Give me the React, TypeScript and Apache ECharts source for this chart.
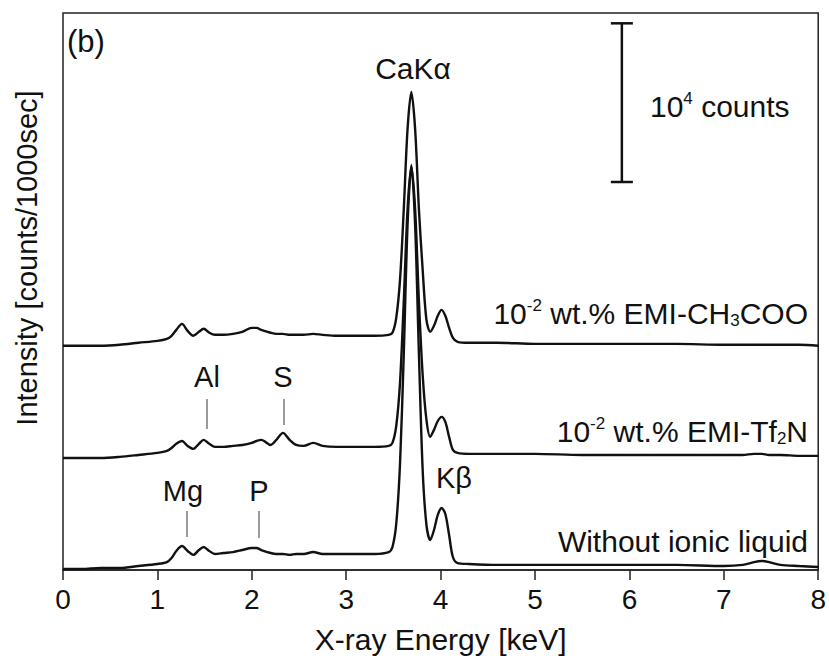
import React, { useEffect, useRef } from 'react';
import * as echarts from 'echarts';

// X-ray energy grid (keV)
const energies = [
  0, 0.2, 0.4, 0.6, 0.8,
  1.0, 1.1, 1.15, 1.2, 1.26,
  1.32, 1.38, 1.44, 1.49, 1.55,
  1.61, 1.7, 1.8, 1.9, 2.0,
  2.05, 2.1, 2.2, 2.26, 2.33,
  2.4, 2.47, 2.55, 2.65, 2.75,
  2.9, 3.1, 3.3, 3.45, 3.49,
  3.53, 3.57, 3.61, 3.65, 3.69,
  3.73, 3.77, 3.81, 3.85, 3.89,
  3.93, 3.97, 4.01, 4.05, 4.09,
  4.13, 4.18, 4.3, 4.6, 5.0,
  5.5, 6.0, 6.5, 7.0, 7.2,
  7.32, 7.4, 7.48, 7.6, 7.8,
  8.0,
];

// counts / 1000 sec (before vertical offset)
const ch3coo = [
  130, 130, 130, 190, 320,
  440, 570, 760, 1130, 1510,
  1070, 760, 1010, 1200, 950,
  820, 820, 880, 1010, 1260,
  1260, 1130, 950, 880, 880,
  820, 820, 820, 880, 820,
  760, 760, 760, 820, 950,
  1890, 4280, 8760, 13800, 16130,
  13800, 8760, 4910, 1760, 1010,
  1390, 2020, 2390, 2020, 1260,
  630, 380, 320, 320, 250,
  250, 250, 250, 190, 190,
  190, 190, 190, 190, 190,
  130,
];

const tf2n = [
  60, 60, 60, 130, 250,
  380, 500, 690, 950, 1130,
  820, 630, 950, 1200, 950,
  760, 760, 820, 880, 1010,
  1130, 1200, 880, 1200, 1640,
  1200, 880, 820, 1010, 820,
  760, 760, 760, 820, 1010,
  2080, 4790, 9950, 15750, 18400,
  15750, 9950, 5290, 2460, 1390,
  1830, 2390, 2650, 2330, 1390,
  570, 380, 320, 320, 320,
  250, 250, 250, 250, 250,
  320, 320, 250, 250, 190,
  190,
];

const withoutIL = [
  60, 60, 130, 130, 250,
  380, 500, 760, 1200, 1510,
  1200, 950, 1260, 1450, 1200,
  1010, 1070, 1130, 1260, 1390,
  1390, 1260, 1070, 1010, 1010,
  950, 1010, 1010, 1130, 1010,
  1010, 1010, 1010, 1130, 1450,
  2900, 6680, 13670, 21740, 25520,
  21740, 13670, 6300, 2840, 1890,
  2520, 3470, 3910, 3530, 2210,
  820, 440, 380, 320, 320,
  320, 320, 320, 250, 320,
  500, 570, 500, 320, 250,
  190,
];

const OFFSET_WITHOUT = 0;
const OFFSET_TF2N = 7000;
const OFFSET_CH3COO = 14000;

const X_MIN = 0;
const X_MAX = 8;
const X_INTERVAL = 1;
const Y_MIN = 0;
const Y_MAX = 35100;

// scale bar: 10^4 counts
const SCALE_BAR_ENERGY = 5.92;
const SCALE_BAR_BOTTOM = 24450;
const SCALE_BAR_COUNTS = 10000;

const FONT = 'Arial, "Liberation Sans", sans-serif';

export default function App() {
  const ref = useRef<HTMLDivElement>(null);

  useEffect(() => {
    if (!ref.current) return;
    const chart = echarts.init(ref.current, null, { renderer: 'svg' });
    const mk = (vals: number[], off: number) => energies.map((e, i) => [e, vals[i] + off]);
    const lineSeries = (name: string, vals: number[], off: number) => ({
      name,
      type: 'line',
      data: mk(vals, off),
      showSymbol: false,
      smooth: 0.3,
      lineStyle: { color: '#111', width: 2.4 },
      z: 3,
    });

    chart.setOption({
      animation: false,
      backgroundColor: '#fff',
      grid: {
        left: 63, right: 10, top: 13, bottom: 89,
        show: true, borderColor: '#222', borderWidth: 1.5,
      },
      xAxis: {
        type: 'value', min: X_MIN, max: X_MAX, interval: X_INTERVAL,
        axisLine: { show: true, lineStyle: { color: '#222', width: 1.5 } },
        axisTick: { show: true, inside: false, length: 10, lineStyle: { color: '#222', width: 1.5 } },
        axisLabel: { fontSize: 28, color: '#111', fontFamily: FONT, margin: 15 },
        splitLine: { show: false },
        name: 'X-ray Energy [keV]',
        nameLocation: 'middle',
        nameGap: 54,
        nameTextStyle: { fontSize: 30, color: '#111', fontFamily: FONT },
      },
      yAxis: {
        type: 'value', min: Y_MIN, max: Y_MAX,
        axisLine: { show: false }, axisTick: { show: false },
        axisLabel: { show: false }, splitLine: { show: false },
      },
      series: [
        lineSeries('Without ionic liquid', withoutIL, OFFSET_WITHOUT),
        lineSeries('10^-2 wt.% EMI-Tf2N', tf2n, OFFSET_TF2N),
        lineSeries('10^-2 wt.% EMI-CH3COO', ch3coo, OFFSET_CH3COO),
      ],
    });

    const pb = chart.convertToPixel({ gridIndex: 0 }, [SCALE_BAR_ENERGY, SCALE_BAR_BOTTOM]) as number[];
    const pt = chart.convertToPixel({ gridIndex: 0 }, [SCALE_BAR_ENERGY, SCALE_BAR_BOTTOM + SCALE_BAR_COUNTS]) as number[];
    const cap = 11;
    const barStyle = { stroke: '#111', lineWidth: 2.5 };

    const txt = (text: string, x: number, y: number, align = 'center', size = 30, extra: any = {}) => ({
      type: 'text', x, y, z: 10,
      style: {
        text, fontSize: size, fontFamily: FONT, fill: '#111',
        align, verticalAlign: 'middle', textAlign: align, textVerticalAlign: 'middle',
        ...extra,
      },
    });
    const rich = {
      sup: { fontSize: 17, fontFamily: FONT, fill: '#111', verticalAlign: 'top' },
      sub: { fontSize: 17, fontFamily: FONT, fill: '#111', verticalAlign: 'bottom' },
    };
    const tick = (x: number, y1: number, y2: number) => ({
      type: 'line', z: 10,
      shape: { x1: x, y1, x2: x, y2 },
      style: { stroke: '#666', lineWidth: 1.3 },
    });

    chart.setOption({
      graphic: [
        { type: 'line', z: 10, shape: { x1: pb[0], y1: pb[1], x2: pt[0], y2: pt[1] }, style: barStyle },
        { type: 'line', z: 10, shape: { x1: pt[0] - cap, y1: pt[1], x2: pt[0] + cap, y2: pt[1] }, style: barStyle },
        { type: 'line', z: 10, shape: { x1: pb[0] - cap, y1: pb[1], x2: pb[0] + cap, y2: pb[1] }, style: barStyle },
        txt('10{sup|4} counts', 650, 106, 'left', 30, { rich, lineHeight: 32 }),
        txt('(b)', 67, 41, 'left', 31),
        txt('CaKα', 413, 68, 'center', 30),
        txt('10{sup|-2} wt.% EMI-CH{sub|3}COO', 808, 313, 'right', 30, { rich, lineHeight: 32 }),
        txt('10{sup|-2} wt.% EMI-Tf{sub|2}N', 808, 431, 'right', 30, { rich, lineHeight: 32 }),
        txt('Without ionic liquid', 808, 541, 'right', 30),
        txt('Al', 207, 377, 'center', 29),
        txt('S', 283, 377, 'center', 29),
        txt('Mg', 183, 491, 'center', 29),
        txt('P', 259, 491, 'center', 29),
        txt('Kβ', 454, 478, 'center', 29),
        tick(207, 399, 429),
        tick(284, 399, 425),
        tick(187, 511, 537),
        tick(259, 511, 538),
        {
          type: 'text', x: 27, y: 258, rotation: Math.PI / 2, z: 10,
          style: {
            text: 'Intensity [counts/1000sec]', fontSize: 29, fontFamily: FONT, fill: '#111',
            align: 'center', verticalAlign: 'middle', textAlign: 'center', textVerticalAlign: 'middle',
          },
        },
      ],
    });

    return () => chart.dispose();
  }, []);

  return (
    <div
      ref={ref}
      style={{ position: 'absolute', left: 0, top: 0, width: 829, height: 659, background: '#fff' }}
    />
  );
}
